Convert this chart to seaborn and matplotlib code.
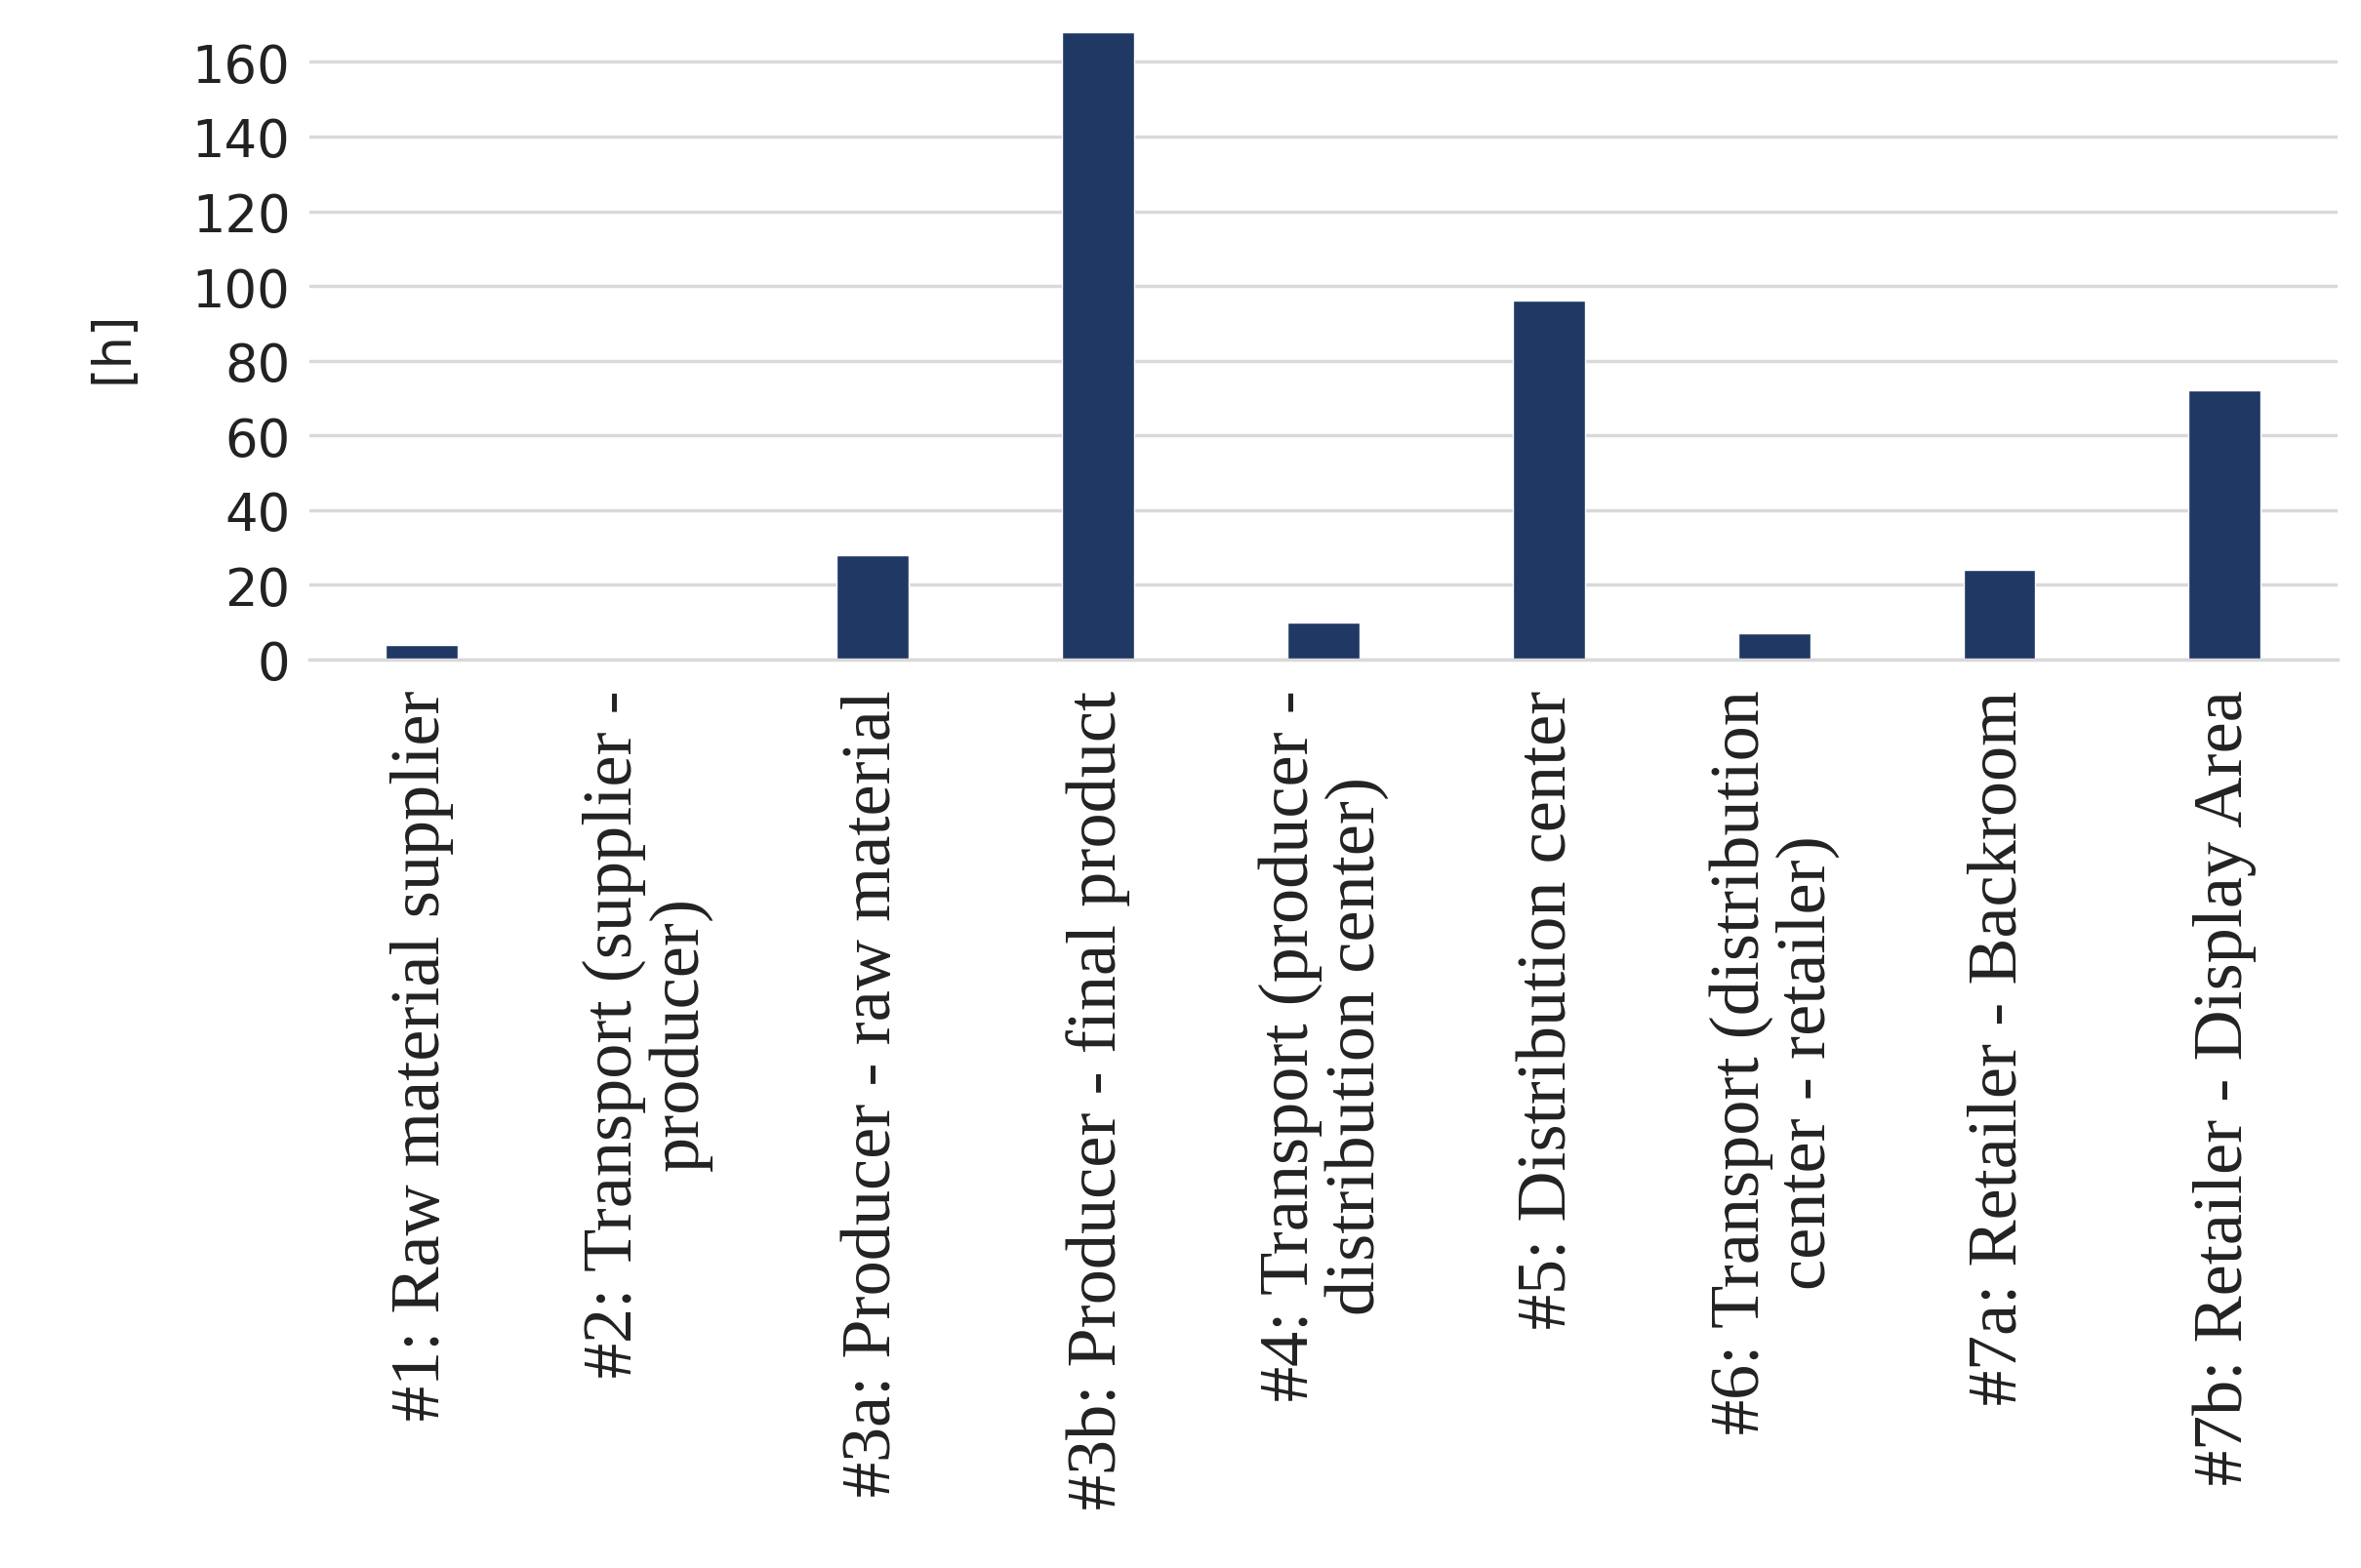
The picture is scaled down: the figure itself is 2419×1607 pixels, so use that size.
import matplotlib
matplotlib.use("Agg")
import matplotlib.pyplot as plt
import seaborn as sns
import pandas as pd

categories = ["#1: Raw material supplier", "#2: Transport (supplier -\nproducer)",
              "#3a: Producer - raw material", "#3b: Producer - final product",
              "#4: Transport (producer -\ndistribution center)", "#5: Distribution center",
              "#6: Transport (distribution\ncenter - retailer)", "#7a: Retailer - Backroom",
              "#7b: Retailer - Display Area"]
values = [4, 0, 28, 168, 10, 96, 7, 24, 72]
yticks = [0, 20, 40, 60, 80, 100, 120, 140, 160]

sns.set_theme(style="white")
fig = plt.figure(figsize=(24.19, 16.08), dpi=100)
ax = fig.add_axes([0.131, 0.579, 0.859, 0.40])
df = pd.DataFrame({"c": categories, "v": values})
sns.barplot(data=df, x="c", y="v", color="#203864", width=0.32, saturation=1, ax=ax)
ax.set_ylim(0, 168)
ax.set_xlim(-0.5, len(categories) - 0.5)
ax.set_yticks(yticks)
ax.yaxis.grid(True, color="#d9d9d9", linewidth=2.5)
ax.set_axisbelow(True)
for s in ["top", "right", "left"]:
    ax.spines[s].set_visible(False)
ax.spines["bottom"].set_color("#d9d9d9")
ax.spines["bottom"].set_linewidth(2.5)
ax.tick_params(axis="y", labelsize=38, length=0, pad=14, labelcolor="#222222")
ax.tick_params(axis="x", length=0, pad=22)
ax.set_xticks(range(len(categories)))
ax.set_xticklabels(categories, rotation=90, fontsize=52, family="Liberation Serif",
                   va="top", ha="center", color="#222222", linespacing=1.05)
ax.set_xlabel("")
ax.set_ylabel("[h]", fontsize=38, labelpad=40, color="#222222")
fig.savefig("out.png", dpi=100)
